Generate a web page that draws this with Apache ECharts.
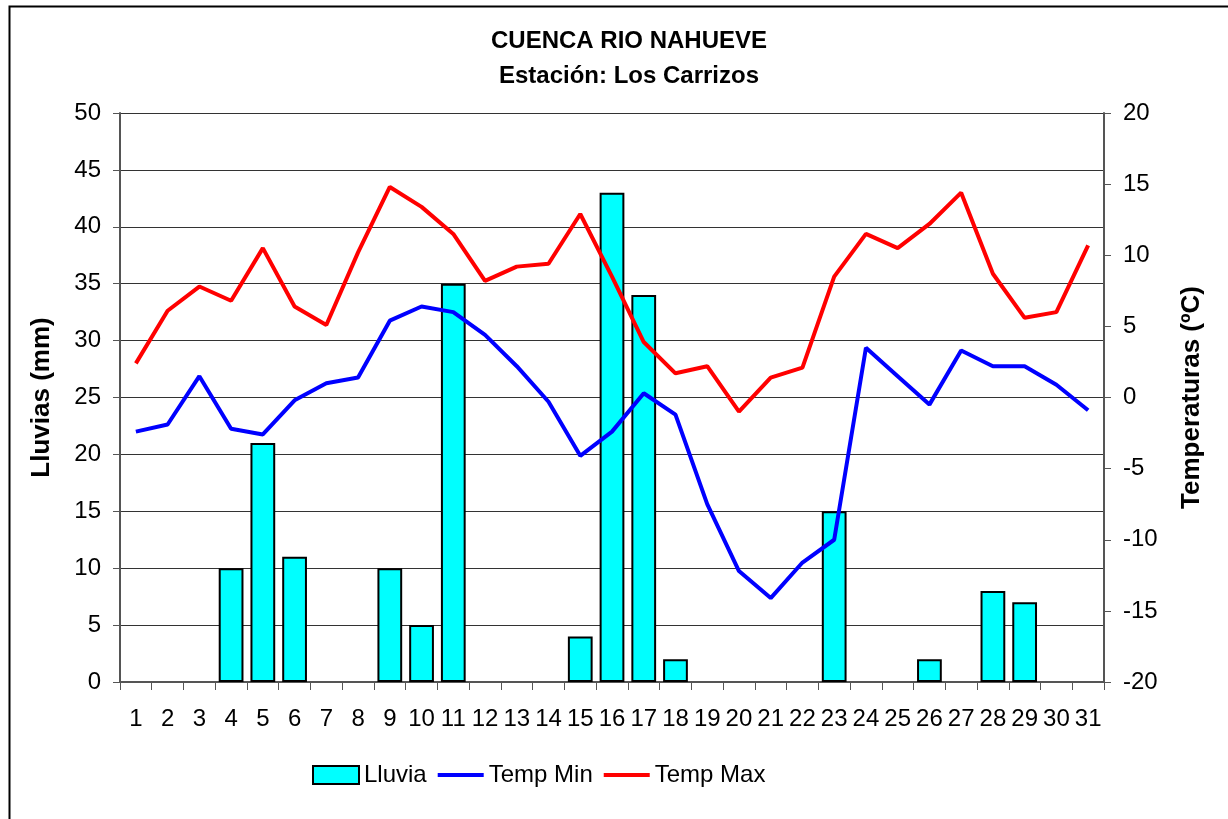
<!doctype html>
<html>
<head>
<meta charset="UTF-8">
<title>Cuenca Rio Nahueve</title>
<script src="https://cdn.jsdelivr.net/npm/echarts@6/dist/echarts.min.js"></script>
<style>
  html, body { margin: 0; padding: 0; background: #fff; }
  #chart { width: 1228px; height: 819px; }
</style>
</head>
<body>
<div id="chart"></div>
<script>
  // dias del mes
  var dias = [];
  for (var d = 1; d <= 31; d++) dias.push(String(d));

  // lluvia diaria (mm)
  var lluvia = [0, 0, 0, 10, 21, 11, 0, 0, 10, 5, 35, 0, 0, 0, 4, 43, 34, 2, 0, 0, 0, 0, 15, 0, 0, 2, 0, 8, 7, 0, 0];

  // temperaturas (ºC)
  var tempMin = [-2.4, -1.9, 1.5, -2.2, -2.6, -0.2, 1.0, 1.4, 5.4, 6.4, 6.0, 4.4, 2.2, -0.3, -4.1, -2.4, 0.3, -1.2, -7.5, -12.2, -14.1, -11.6, -10.0, 3.5, 1.5, -0.5, 3.3, 2.2, 2.2, 0.9, -0.9];
  var tempMax = [2.4, 6.1, 7.8, 6.8, 10.5, 6.4, 5.1, 10.2, 14.8, 13.4, 11.5, 8.2, 9.2, 9.4, 12.9, 8.5, 3.9, 1.7, 2.2, -1.0, 1.4, 2.1, 8.5, 11.5, 10.5, 12.2, 14.4, 8.7, 5.6, 6.0, 10.7];

  var font = '"Liberation Sans", Arial, sans-serif';
  var lineIcon = 'path://M0,0 L48,0 L48,4 L0,4 Z';

  var chart = echarts.init(document.getElementById('chart'), null, { renderer: 'canvas' });

  var option = {
    backgroundColor: '#fff',
    animation: false,
    title: {
      text: 'CUENCA RIO NAHUEVE\nEstación: Los Carrizos',
      left: 624,
      textAlign: 'center',
      top: 19,
      textStyle: {
        fontFamily: font,
        fontSize: 24,
        fontWeight: 'bold',
        color: '#000',
        lineHeight: 35
      }
    },
    legend: {
      left: 307,
      top: 758,
      itemWidth: 46,
      itemHeight: 18,
      itemGap: 11,
      textStyle: { fontFamily: font, fontSize: 24, color: '#000' },
      data: [
        { name: 'Lluvia', icon: 'rect' },
        { name: 'Temp Min', icon: lineIcon },
        { name: 'Temp Max', icon: lineIcon }
      ]
    },
    grid: {
      left: 120,
      right: 124,
      top: 113,
      bottom: 137
    },
    xAxis: {
      type: 'category',
      data: dias,
      axisLine: { lineStyle: { color: '#555', width: 2 } },
      axisTick: { show: true, length: 8, lineStyle: { color: '#555', width: 1 } },
      axisLabel: { color: '#000', fontFamily: font, fontSize: 24, margin: 25, interval: 0 }
    },
    yAxis: [{
      type: 'value',
      min: 0,
      max: 50,
      interval: 5,
      name: 'Lluvias (mm)',
      nameLocation: 'middle',
      nameGap: 65,
      nameTextStyle: { fontFamily: font, fontSize: 26, fontWeight: 'bold', color: '#000' },
      axisLine: { show: true, lineStyle: { color: '#555', width: 2 } },
      axisTick: { show: true, length: 7, lineStyle: { color: '#555' } },
      axisLabel: { color: '#000', fontFamily: font, fontSize: 24, margin: 19 },
      splitLine: { show: true, lineStyle: { color: '#333', width: 1 } }
    }, {
      type: 'value',
      min: -20,
      max: 20,
      interval: 5,
      name: 'Temperaturas (ºC)',
      nameLocation: 'middle',
      nameGap: 75,
      nameRotate: 90,
      nameTextStyle: { fontFamily: font, fontSize: 26, fontWeight: 'bold', color: '#000' },
      axisLine: { show: true, lineStyle: { color: '#555', width: 2 } },
      axisTick: { show: true, length: 7, lineStyle: { color: '#555' } },
      axisLabel: { color: '#000', fontFamily: font, fontSize: 24, margin: 19 },
      splitLine: { show: false }
    }],
    series: [{
      name: 'Lluvia',
      type: 'bar',
      yAxisIndex: 0,
      barCategoryGap: '22%',
      data: lluvia.map(function(v) { return v === 0 ? '-' : v; }),
      itemStyle: { color: '#00ffff', borderColor: '#000', borderWidth: 2 }
    }, {
      name: 'Temp Min',
      type: 'line',
      yAxisIndex: 1,
      symbol: 'none',
      data: tempMin,
      itemStyle: { color: '#0000ff' },
      lineStyle: { color: '#0000ff', width: 4 }
    }, {
      name: 'Temp Max',
      type: 'line',
      yAxisIndex: 1,
      symbol: 'none',
      data: tempMax,
      itemStyle: { color: '#ff0000' },
      lineStyle: { color: '#ff0000', width: 4 }
    }],
    graphic: [{
      // marco exterior del grafico
      type: 'rect',
      left: 7,
      top: 4,
      shape: { width: 1240, height: 840 },
      style: { fill: null, stroke: '#000', lineWidth: 2 },
      silent: true
    }]
  };

  chart.setOption(option);
</script>
</body>
</html>
